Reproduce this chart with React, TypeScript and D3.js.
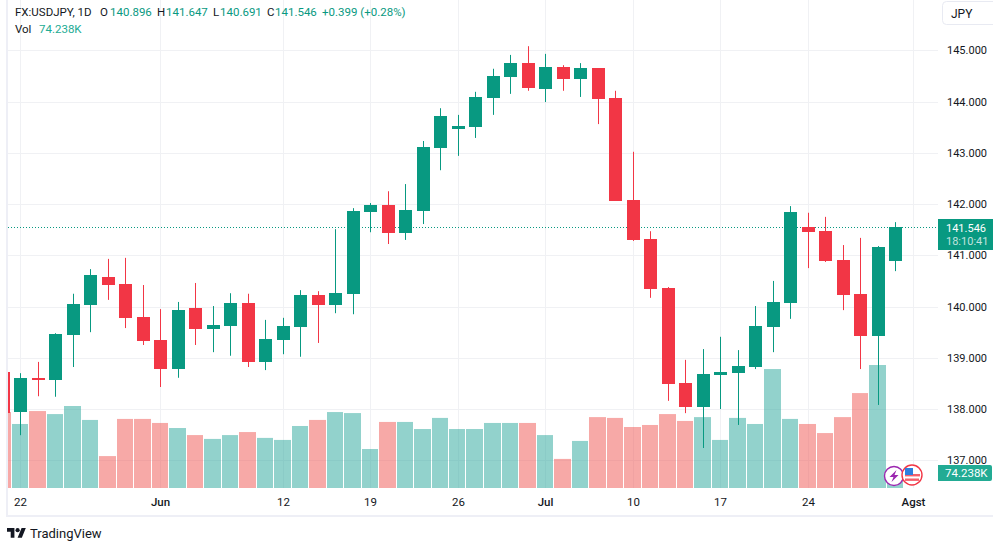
import { useEffect, useRef } from "react";
import * as d3 from "d3";

const WIDTH = 993;
const HEIGHT = 551;
const GREEN = "#089981";
const RED = "#F23645";
const GRID = "#f0f1f4";
const TEXT = "#131722";
const FONT = "Roboto, sans-serif";

// session dates, first one is the clipped candle at the left edge
const dates = [
  "05-19", "05-22", "05-23", "05-24", "05-25", "05-26", "05-29", "05-30", "05-31", "06-01", "06-02", "06-05", "06-06",
  "06-07", "06-08", "06-09", "06-12", "06-13", "06-14", "06-15", "06-16", "06-19", "06-20", "06-21", "06-22", "06-23",
  "06-26", "06-27", "06-28", "06-29", "06-30", "07-03", "07-04", "07-05", "07-06", "07-07", "07-10", "07-11", "07-12",
  "07-13", "07-14", "07-17", "07-18", "07-19", "07-20", "07-21", "07-24", "07-25", "07-26", "07-27", "07-28", "07-31",
];

const opens = [
  138.72, 137.94, 138.61, 138.57, 139.44, 140.03, 140.58, 140.44, 139.8, 139.35, 138.78, 139.97, 139.56,
  139.62, 140.07, 138.92, 139.35, 139.6, 140.23, 140.03, 140.25, 141.85, 141.98, 141.43, 141.86, 143.09,
  143.46, 143.5, 144.07, 144.48, 144.75, 144.24, 144.67, 144.44, 144.65, 144.07, 142.08, 141.32, 140.36,
  138.51, 138.04, 138.66, 138.7, 138.82, 139.6, 140.07, 141.55, 141.47, 140.91, 140.25, 139.43, 140.896,
];
const highs = [
  138.72, 138.7, 138.92, 139.48, 140.25, 140.73, 140.93, 140.95, 140.42, 139.95, 140.09, 140.46, 140.01,
  140.26, 140.25, 139.74, 139.78, 140.32, 140.3, 141.51, 141.92, 142.02, 142.25, 142.39, 143.23, 143.87,
  143.74, 144.19, 144.64, 144.91, 145.08, 144.93, 144.71, 144.75, 144.65, 144.21, 143.02, 141.47, 140.38,
  138.96, 139.17, 139.41, 139.15, 140.01, 140.5, 141.96, 141.83, 141.75, 141.2, 141.34, 141.18, 141.647,
];
const lows = [
  137.92, 137.49, 138.25, 138.24, 138.82, 139.5, 140.13, 139.58, 139.25, 138.43, 138.61, 139.25, 139.11,
  139.04, 138.82, 138.76, 139.07, 139.02, 139.29, 139.87, 139.85, 141.45, 141.22, 141.3, 141.61, 142.66,
  142.94, 143.29, 143.74, 144.15, 144.21, 143.99, 144.21, 144.09, 143.56, 142.06, 141.28, 140.17, 138.16,
  137.92, 137.24, 138.0, 137.69, 138.78, 139.11, 139.76, 140.75, 140.87, 139.93, 138.78, 138.08, 140.691,
];
const closes = [
  137.92, 138.61, 138.57, 139.46, 140.05, 140.62, 140.42, 139.78, 139.33, 138.78, 139.93, 139.56, 139.64,
  140.07, 138.92, 139.37, 139.62, 140.23, 140.03, 140.26, 141.86, 141.98, 141.43, 141.88, 143.11, 143.72,
  143.52, 144.09, 144.5, 144.75, 144.26, 144.67, 144.44, 144.65, 144.05, 142.06, 141.3, 140.34, 138.49,
  138.04, 138.68, 138.72, 138.84, 139.62, 140.09, 141.85, 141.45, 140.89, 140.23, 139.43, 141.16, 141.546,
];
// thousands
const volumes = [
  376, 317, 381, 366, 406, 337, 158, 342, 342, 322, 297, 262, 243,
  262, 277, 248, 238, 307, 337, 376, 371, 193, 327, 327, 292, 347,
  292, 292, 322, 322, 322, 262, 144, 233, 351, 347, 302, 312, 366,
  332, 351, 238, 347, 317, 589, 342, 317, 272, 351, 470, 609, 74.238,
];

const priceTicks = [145, 144, 143, 142, 141, 140, 139, 138, 137];
const timeLabels = ["22", "Jun", "12", "19", "26", "Jul", "10", "17", "24", "Agst"];
const timeDates = ["05-22", "06-01", "06-12", "06-19", "06-26", "07-03", "07-10", "07-17", "07-24", "08-01"];
const monthLabels = ["Jun", "Jul", "Agst"];

const lastPrice = closes[closes.length - 1];

export default function App() {
  const svgRef = useRef<SVGSVGElement>(null);

  useEffect(() => {
    const svgEl = svgRef.current;
    if (!svgEl) return;
    const svg = d3.select(svgEl);
    svg.selectAll("*").remove();

    const plotLeft = 8;
    const plotRight = 938;
    const plotBottom = 488;

    const x = d3.scaleLinear().domain([0, 52]).range([3.25, 913.25]);
    const center = (i: number) => Math.floor(x(i)) + 0.5;
    const y = d3.scaleLinear().domain([145, 137]).range([50.3, 460.3]);
    const yVol = d3.scaleLinear().domain([0, 609]).range([plotBottom, 365]);

    const indexOf = (d: string) => (d === "08-01" ? dates.length : dates.indexOf(d));
    const bars = dates.map((date, i) => ({
      i,
      date,
      open: opens[i],
      high: highs[i],
      low: lows[i],
      close: closes[i],
      volume: volumes[i],
      up: closes[i] >= opens[i],
    }));

    svg
      .append("defs")
      .append("clipPath")
      .attr("id", "plot")
      .append("rect")
      .attr("x", plotLeft)
      .attr("y", 0)
      .attr("width", plotRight - plotLeft)
      .attr("height", plotBottom);

    // frame bands
    svg.append("rect").attr("x", 6).attr("y", 0).attr("width", 2).attr("height", 517).attr("fill", "#eeeff6");
    svg.append("rect").attr("x", 6).attr("y", 515).attr("width", WIDTH - 6).attr("height", 2).attr("fill", "#eeeff6");

    // grid
    svg
      .append("g")
      .selectAll("line")
      .data(priceTicks)
      .join("line")
      .attr("x1", plotLeft)
      .attr("x2", plotRight)
      .attr("y1", (d) => Math.round(y(d)) + 0.5)
      .attr("y2", (d) => Math.round(y(d)) + 0.5)
      .attr("stroke", GRID);
    svg
      .append("g")
      .selectAll("line")
      .data(timeDates)
      .join("line")
      .attr("x1", (d) => center(indexOf(d)))
      .attr("x2", (d) => center(indexOf(d)))
      .attr("y1", 0)
      .attr("y2", plotBottom)
      .attr("stroke", GRID);

    const plot = svg.append("g").attr("clip-path", "url(#plot)");

    // volume
    plot
      .append("g")
      .selectAll("rect")
      .data(bars)
      .join("rect")
      .attr("x", (d) => Math.floor(x(d.i - 0.5)))
      .attr("width", (d) => Math.floor(x(d.i + 0.5)) - Math.floor(x(d.i - 0.5)) - 1)
      .attr("y", (d) => yVol(d.volume))
      .attr("height", (d) => plotBottom - yVol(d.volume))
      .attr("fill", (d) => (d.up ? "#26a69a" : "#ef5350"))
      .attr("fill-opacity", 0.5);

    // last price line
    plot
      .append("line")
      .attr("x1", plotLeft)
      .attr("x2", plotRight)
      .attr("y1", Math.round(y(lastPrice)) + 0.5)
      .attr("y2", Math.round(y(lastPrice)) + 0.5)
      .attr("stroke", GREEN)
      .attr("stroke-dasharray", "1 2");

    // candles
    const candles = plot.append("g").selectAll("g").data(bars).join("g");
    candles
      .append("line")
      .attr("x1", (d) => center(d.i))
      .attr("x2", (d) => center(d.i))
      .attr("y1", (d) => y(d.high))
      .attr("y2", (d) => y(d.low))
      .attr("stroke", (d) => (d.up ? GREEN : RED))
      .attr("stroke-width", 1);
    candles
      .append("rect")
      .attr("x", (d) => center(d.i) - 6.5)
      .attr("width", 13)
      .attr("y", (d) => Math.round(y(Math.max(d.open, d.close))))
      .attr("height", (d) => Math.max(1, Math.round(y(Math.min(d.open, d.close))) - Math.round(y(Math.max(d.open, d.close)))))
      .attr("fill", (d) => (d.up ? GREEN : RED));

    // price axis
    svg
      .append("g")
      .selectAll("text")
      .data(priceTicks)
      .join("text")
      .attr("x", 947)
      .attr("y", (d) => y(d) + 4)
      .attr("font-family", FONT)
      .attr("font-size", 11)
      .attr("fill", TEXT)
      .text((d) => d3.format(".3f")(d));

    // time axis
    svg
      .append("g")
      .selectAll("text")
      .data(timeLabels)
      .join("text")
      .attr("x", (_d, i) => center(indexOf(timeDates[i])))
      .attr("y", 506)
      .attr("text-anchor", "middle")
      .attr("font-family", FONT)
      .attr("font-size", 11.5)
      .attr("font-weight", (d) => (monthLabels.includes(d) ? 500 : 400))
      .attr("fill", TEXT)
      .text((d) => d);

    // last price tag
    const tagY = Math.round(y(lastPrice)) - 8;
    svg.append("rect").attr("x", 938).attr("y", tagY).attr("width", 55).attr("height", 31).attr("fill", GREEN);
    svg
      .append("text")
      .attr("x", 946)
      .attr("y", tagY + 13)
      .attr("font-family", FONT)
      .attr("font-size", 11)
      .attr("fill", "#ffffff")
      .text(d3.format(".3f")(lastPrice));
    svg
      .append("text")
      .attr("x", 946)
      .attr("y", tagY + 26)
      .attr("font-family", FONT)
      .attr("font-size", 11)
      .attr("fill", "#ffffff")
      .attr("fill-opacity", 0.75)
      .text("18:10:41");

    // volume tag
    svg
      .append("path")
      .attr("d", "M938 465H990a2 2 0 0 1 2 2V479a2 2 0 0 1 -2 2H938Z")
      .attr("fill", "#22ab94");
    svg
      .append("text")
      .attr("x", 945)
      .attr("y", 477)
      .attr("font-family", FONT)
      .attr("font-size", 11.5)
      .attr("fill", "#ffffff")
      .text("74.238K");

    // currency button
    svg
      .append("rect")
      .attr("x", 942.5)
      .attr("y", 1.5)
      .attr("width", 60)
      .attr("height", 23)
      .attr("rx", 4)
      .attr("fill", "#ffffff")
      .attr("stroke", "#e8eaf2");
    svg
      .append("text")
      .attr("x", 951)
      .attr("y", 18)
      .attr("font-family", FONT)
      .attr("font-size", 12)
      .attr("fill", TEXT)
      .text("JPY");

    // header
    const header = svg.append("g").attr("font-family", FONT).attr("font-size", 11.5);
    const headerParts: [number, number, string, string][] = [
      [15, 16, "FX:USDJPY, 1D", TEXT],
      [100, 16, "O", TEXT],
      [110, 16, "140.896", GREEN],
      [157, 16, "H", TEXT],
      [166, 16, "141.647", GREEN],
      [213, 16, "L", TEXT],
      [220, 16, "140.691", GREEN],
      [267, 16, "C", TEXT],
      [275, 16, "141.546", GREEN],
      [322, 16, "+0.399 (+0.28%)", GREEN],
      [15, 33, "Vol", TEXT],
      [39, 33, "74.238K", "#22ab94"],
    ];
    header
      .selectAll("text")
      .data(headerParts)
      .join("text")
      .attr("x", (d) => d[0])
      .attr("y", (d) => d[1])
      .attr("fill", (d) => d[3])
      .text((d) => d[2]);

    // event badges
    const bolt = svg.append("g").attr("transform", "translate(894,476)");
    bolt.append("circle").attr("r", 9.5).attr("fill", "#ffffff").attr("stroke", "#9c27b0").attr("stroke-width", 1.4);
    bolt.append("path").attr("d", "M2.5 -6L-4.5 1H-0.5L-2.5 6L4.5 -1H0.5Z").attr("fill", "#9c27b0");

    const flag = svg.append("g").attr("transform", "translate(912,475)");
    flag.append("circle").attr("r", 10).attr("fill", "#ffffff").attr("stroke", RED).attr("stroke-width", 1.4);
    flag.append("rect").attr("x", -7).attr("y", -1).attr("width", 15).attr("height", 2.4).attr("fill", "#f5606c");
    flag.append("rect").attr("x", -7).attr("y", 3.5).attr("width", 14).attr("height", 2.4).attr("fill", "#f5606c");
    flag.append("rect").attr("x", -7).attr("y", -7).attr("width", 8).attr("height", 7).attr("fill", "#2e7fe0");

    // logo
    const logo = svg.append("g").attr("transform", "translate(7,526) scale(0.53)").attr("fill", TEXT);
    logo.append("path").attr("d", "M14 22H7V11H0V4h14v18zM28 22h-8l7.5-18h8L28 22z");
    logo.append("circle").attr("cx", 20).attr("cy", 8).attr("r", 4);
    svg
      .append("text")
      .attr("x", 30)
      .attr("y", 538)
      .attr("font-family", FONT)
      .attr("font-size", 13)
      .attr("fill", TEXT)
      .text("TradingView");
  }, []);

  return (
    <svg
      ref={svgRef}
      width={WIDTH}
      height={HEIGHT}
      style={{ position: "fixed", left: 0, top: 0, background: "#ffffff" }}
    />
  );
}
